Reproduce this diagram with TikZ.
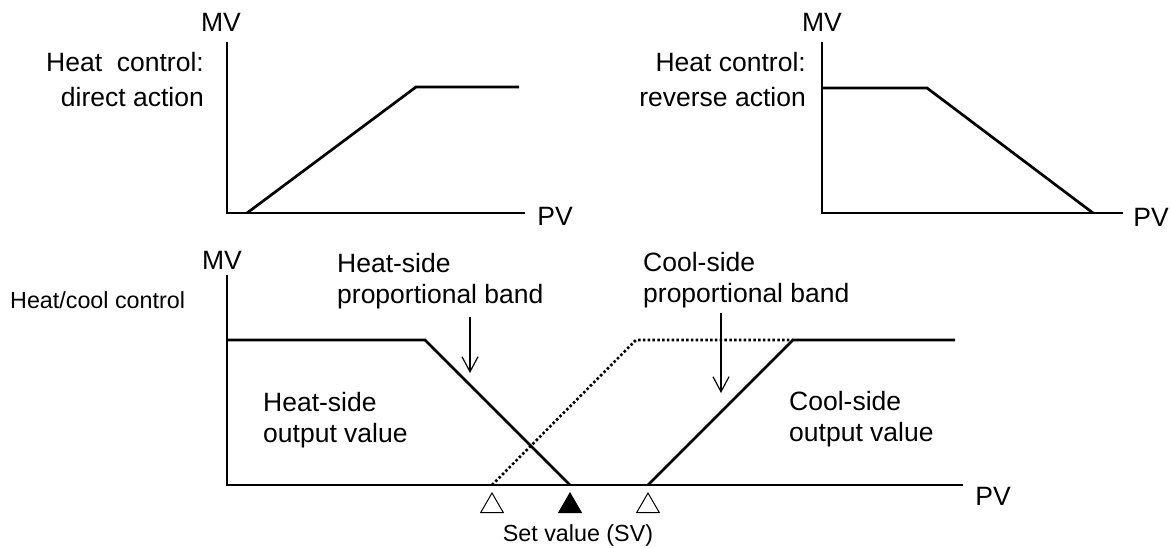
\documentclass[tikz,border=0pt]{standalone}
\usepackage{fontspec}
\setmainfont{Liberation Sans}
\usetikzlibrary{arrows.meta,shapes.geometric}
\begin{document}
\begin{tikzpicture}[x=1pt,y=-1pt,
  ax/.style={line width=2.7pt, line join=miter},
  curve/.style={line width=2.7pt, line join=miter},
  dotln/.style={line width=2.6pt, dash pattern=on 2.5pt off 2.3pt},
  lbl/.style={font=\fontsize{26.5}{31}\selectfont, inner sep=0pt},
  toplbl/.style={font=\fontsize{26.5}{35}\selectfont, inner sep=0pt, align=right, anchor=east},
  small/.style={font=\fontsize{23.3}{27}\selectfont, inner sep=0pt},
  ptr/.style={line width=1.3pt, -{Straight Barb[length=15pt,width=16pt,line width=1.2pt]}},
  tri/.style={regular polygon, regular polygon sides=3, minimum size=26pt, inner sep=0pt, draw, line width=1pt}]
\useasboundingbox (0,0) rectangle (1171,547);

% ---------- top-left chart ----------
\coordinate (a1) at (227,42);
\coordinate (a0) at (227,213);
\coordinate (a2) at (525,213);
\draw[ax] (a1) -- (a0) -- (a2);
\coordinate (c1) at (247,213);
\coordinate (c2) at (416,87);
\coordinate (c3) at (519,87);
\draw[curve] (c1) -- (c2) -- (c3);
\node[lbl] (mv1) at (221,22) {MV};
\node[lbl] (pv1) at (555,216) {PV};
\node[toplbl] (hc1) at (204,80) {Heat\ \ control:\\direct action};

% ---------- top-right chart ----------
\coordinate (b1) at (822,42);
\coordinate (b0) at (822,213);
\coordinate (b2) at (1123,213);
\draw[ax] (b1) -- (b0) -- (b2);
\coordinate (e1) at (822,88);
\coordinate (e2) at (927,88);
\coordinate (e3) at (1093,213);
\draw[curve] (e1) -- (e2) -- (e3);
\node[lbl] (mv2) at (822,22) {MV};
\node[lbl] (pv2) at (1151,217) {PV};
\node[toplbl] (hc2) at (806,80) {Heat control:\\reverse action};

% ---------- bottom chart ----------
\coordinate (g1) at (227,275);
\coordinate (g0) at (227,485);
\coordinate (g2) at (963,485);
\draw[ax] (g1) -- (g0) -- (g2);
\node[lbl] (mv3) at (222,260) {MV};
\node[lbl] (pv3) at (993,496) {PV};
\node[small, anchor=west] (hcc) at (10,300) {Heat/cool control};

% heat side
\coordinate (h1) at (227,340);
\coordinate (h2) at (425,340);
\coordinate (h3) at (570,485);
\draw[curve] (h1) -- (h2) -- (h3);
% cool side (dotted)
\coordinate (d1) at (492,485);
\coordinate (d2) at (636,340);
\coordinate (d3) at (793,340);
\draw[dotln] (d1) -- (d2) -- (d3);
% cool side (solid)
\coordinate (k1) at (648,485);
\coordinate (k2) at (793,340);
\coordinate (k3) at (955,340);
\draw[curve] (k1) -- (k2) -- (k3);

% labels
\node[lbl, anchor=west, align=left] (hpb) at (337,281) {Heat-side\\proportional band};
\node[lbl, anchor=west, align=left] (hov) at (263,420) {Heat-side\\output value};
\node[lbl, anchor=west, align=left] (cpb) at (643,280) {Cool-side\\proportional band};
\node[lbl, anchor=west, align=left] (cov) at (789,419) {Cool-side\\output value};

% pointer arrows
\coordinate (p1s) at (470,317);
\coordinate (p1e) at (470,373);
\draw[ptr] (p1s) -- (p1e);
\coordinate (p2s) at (721,313);
\coordinate (p2e) at (721,393);
\draw[ptr] (p2s) -- (p2e);

% markers
\node[tri] (t1) at (492,506) {};
\node[tri, fill=black] (t2) at (570,506) {};
\node[tri] (t3) at (648,506) {};
\node[small] (sv) at (578,535) {Set value (SV)};
\end{tikzpicture}
\end{document}
